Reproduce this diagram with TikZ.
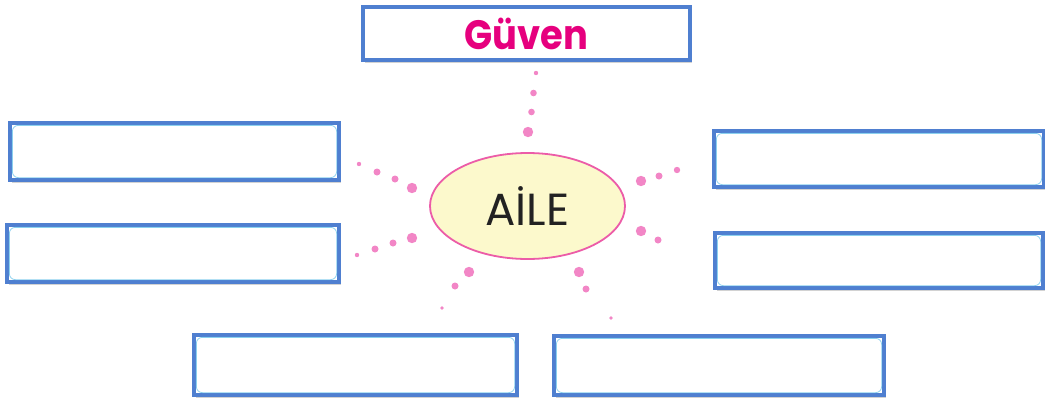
\documentclass[tikz,border=0pt]{standalone}
\usepackage{fontspec}
\setmainfont{Poppins}
\usetikzlibrary{shadows,calc,shapes.geometric}
\definecolor{boxblue}{HTML}{4F7FD0}
\definecolor{innerblue}{HTML}{5BBDE8}
\definecolor{magentatext}{HTML}{E6007E}
\definecolor{dotpink}{HTML}{F286C6}
\definecolor{ellpink}{HTML}{EC5CA8}
\definecolor{ellfill}{HTML}{FCF9CC}
\tikzset{
  answerbox/.style={draw=boxblue, line width=4.3pt, fill=white, rectangle, inner sep=0pt,
    drop shadow={shadow xshift=1.5pt, shadow yshift=-2.5pt, opacity=0.35, fill=gray}},
  innerline/.style={draw=innerblue, line width=0.8pt, rounded corners=6pt, opacity=0.7},
  pinkdot/.style={fill=dotpink},
}
\begin{document}
\begin{tikzpicture}[x=1pt,y=-1pt]
\useasboundingbox (0,0) rectangle (1045,407);
\fill[white] (0,0) rectangle (1045,407);

% boxes
\node[answerbox, minimum width=327pt, minimum height=53pt] (guven) at (526.5,33.5)
  {\scalebox{0.9}[1]{\fontsize{41}{44}\selectfont\bfseries\color{magentatext}Güven}};
\node[answerbox, minimum width=329pt, minimum height=57pt] (l1) at (174.5,151.5) {};
\node[answerbox, minimum width=332pt, minimum height=57pt] (l2) at (173,253.5) {};
\node[answerbox, minimum width=330pt, minimum height=56pt] (r1) at (879,159) {};
\node[answerbox, minimum width=328pt, minimum height=55pt] (r2) at (879,260.5) {};
\node[answerbox, minimum width=323pt, minimum height=60pt] (b1) at (355.5,365) {};
\node[answerbox, minimum width=330pt, minimum height=59pt] (b2) at (719,365.5) {};

\foreach \n in {l1,l2,r1,r2,b1,b2}{
  \draw[innerline] ($(\n.north west)+(4.5,4.5)$) rectangle ($(\n.south east)+(-4.5,-4.5)$);
}

% centre
\node[ellipse, draw=ellpink, line width=1.8pt, fill=ellfill, minimum width=195pt, minimum height=106pt, inner sep=0pt] (aile) at (527.5,206)
  {\fontsize{45}{48}\selectfont\color[HTML]{222222}AİLE};

% dotted rays
\fill[pinkdot] (536,73) circle (2.2) (533.5,93) circle (3.3) (531.5,112) circle (3.3) (528,132) circle (5.2);
\fill[pinkdot] (359,164) circle (2.2) (377,172) circle (3.5) (395,179) circle (3.5) (412,188) circle (5.2);
\fill[pinkdot] (357,255) circle (2.2) (375,249) circle (3.5) (393,243) circle (3.5) (412,238) circle (5.2);
\fill[pinkdot] (641,181) circle (5.2) (659,176) circle (3.5) (677,170) circle (3.2);
\fill[pinkdot] (641,231) circle (5.2) (658,240) circle (3.5);
\fill[pinkdot] (469,272) circle (5.2) (455,286) circle (3.5) (442,308) circle (1.8);
\fill[pinkdot] (579,272) circle (5.2) (586,289) circle (3.5) (611,318) circle (1.8);
\end{tikzpicture}
\end{document}
